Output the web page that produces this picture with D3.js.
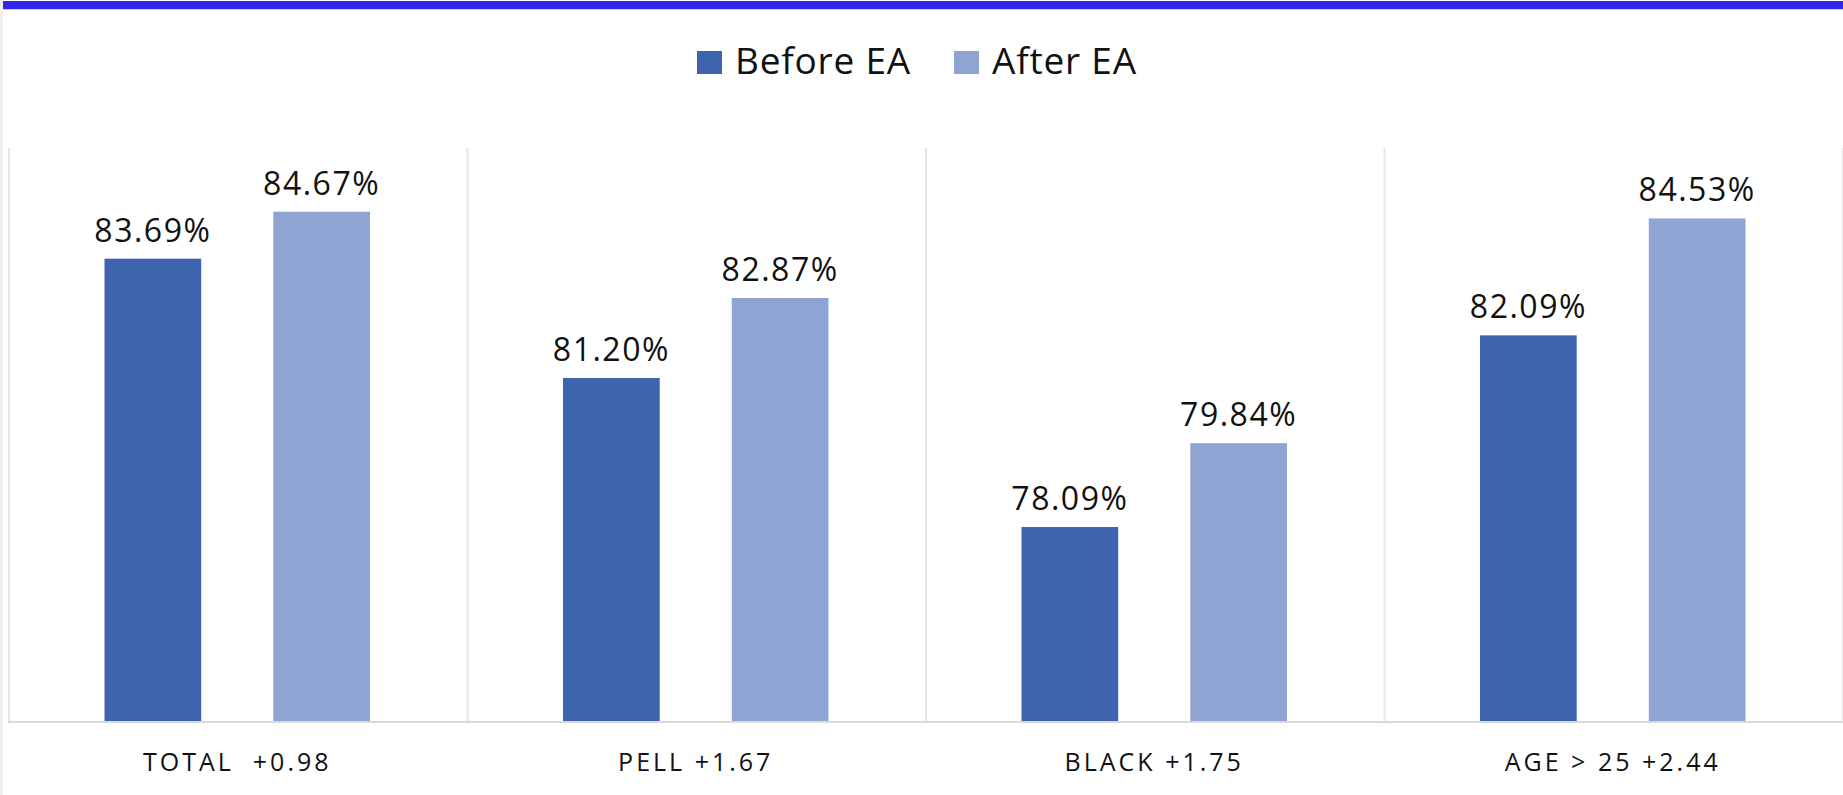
<!DOCTYPE html>
<html>
<head>
<meta charset="utf-8">
<script src="https://cdn.jsdelivr.net/npm/d3@7"></script>
<style>
  html, body { margin: 0; padding: 0; background: #ffffff; }
  svg { display: block; }
  text { font-family: "Open Sans", "Noto Sans", sans-serif; fill: #111111; }
</style>
</head>
<body>
<svg id="chart" width="1843" height="795"></svg>
<script>
// Completion rates by student group, before and after EA
const categories = ["TOTAL  +0.98", "PELL +1.67", "BLACK +1.75", "AGE > 25 +2.44"];
const seriesNames = ["Before EA", "After EA"];
const beforeValues = [83.69, 81.20, 78.09, 82.09];
const afterValues = [84.67, 82.87, 79.84, 84.53];
const yDomain = [74, 86];

const colors = { "Before EA": "#3d64ad", "After EA": "#90a4d4" };

const W = 1843, H = 795;
const plot = { left: 8, right: 1842, top: 148, bottom: 723 };

const svg = d3.select("#chart");

// page frame: light strip on the left edge and blue band across the top
svg.append("rect").attr("x", 0).attr("y", 0).attr("width", 3).attr("height", H).attr("fill", "#f1efeb");
svg.append("rect").attr("x", 3).attr("y", 1).attr("width", W - 3).attr("height", 8).attr("fill", "#3428e8");
svg.append("rect").attr("x", 3).attr("y", 9).attr("width", W - 3).attr("height", 1).attr("fill", "#c9c5f6");

const x0 = d3.scaleBand().domain(categories).range([plot.left, plot.right]).padding(0);
const x1 = d3.scaleBand().domain(seriesNames).range([96.5, x0.bandwidth() - 96.5]).paddingInner(0.427);
const y = d3.scaleLinear().domain(yDomain).range([plot.bottom, plot.top]);

const rows = categories.map((c, i) => ({
  category: c,
  values: [
    { series: "Before EA", value: beforeValues[i] },
    { series: "After EA", value: afterValues[i] }
  ]
}));

// category separators
const grid = svg.append("g");
const edges = categories.map(c => x0(c)).concat([x0(categories[categories.length - 1]) + x0.bandwidth()]);
grid.selectAll("line").data(edges).join("line")
  .attr("x1", d => d + 1).attr("x2", d => d + 1)
  .attr("y1", plot.top).attr("y2", plot.bottom)
  .attr("stroke", "#e6e6e6").attr("stroke-width", 2);

// bars and value labels
const groups = svg.append("g").selectAll("g").data(rows).join("g")
  .attr("transform", d => `translate(${x0(d.category)},0)`);

groups.selectAll("rect").data(d => d.values).join("rect")
  .attr("x", d => x1(d.series))
  .attr("y", d => y(d.value))
  .attr("width", x1.bandwidth())
  .attr("height", d => y(yDomain[0]) - y(d.value))
  .attr("fill", d => colors[d.series]);

groups.selectAll("text").data(d => d.values).join("text")
  .attr("x", d => x1(d.series) + x1.bandwidth() / 2)
  .attr("y", d => y(d.value) - 17)
  .attr("text-anchor", "middle")
  .style("font-size", "32px")
  .style("letter-spacing", "1.5px")
  .text(d => d.value.toFixed(2) + "%");

// baseline
svg.append("line")
  .attr("x1", plot.left).attr("x2", plot.right)
  .attr("y1", plot.bottom - 1).attr("y2", plot.bottom - 1)
  .attr("stroke", "#d9d9d9").attr("stroke-width", 2);

// category axis
const xAxis = svg.append("g")
  .attr("transform", `translate(0,${plot.bottom})`)
  .call(d3.axisBottom(x0).tickSize(0).tickPadding(30));
xAxis.select(".domain").remove();
xAxis.selectAll("text")
  .style("font-size", "25px")
  .style("letter-spacing", "3px")
  .style("white-space", "pre")
  .attr("fill", "#111111");

// legend
const legend = svg.append("g").attr("transform", "translate(697,0)");
const legendOffsets = [0, 257];
seriesNames.forEach((s, i) => {
  const g = legend.append("g").attr("transform", `translate(${legendOffsets[i]},0)`);
  g.append("rect").attr("x", 0).attr("y", 51).attr("width", 25).attr("height", 23).attr("fill", colors[s]);
  g.append("text").attr("x", 38).attr("y", 74)
    .style("font-size", "37px")
    .style("letter-spacing", "0.8px")
    .text(s);
});
</script>
</body>
</html>
